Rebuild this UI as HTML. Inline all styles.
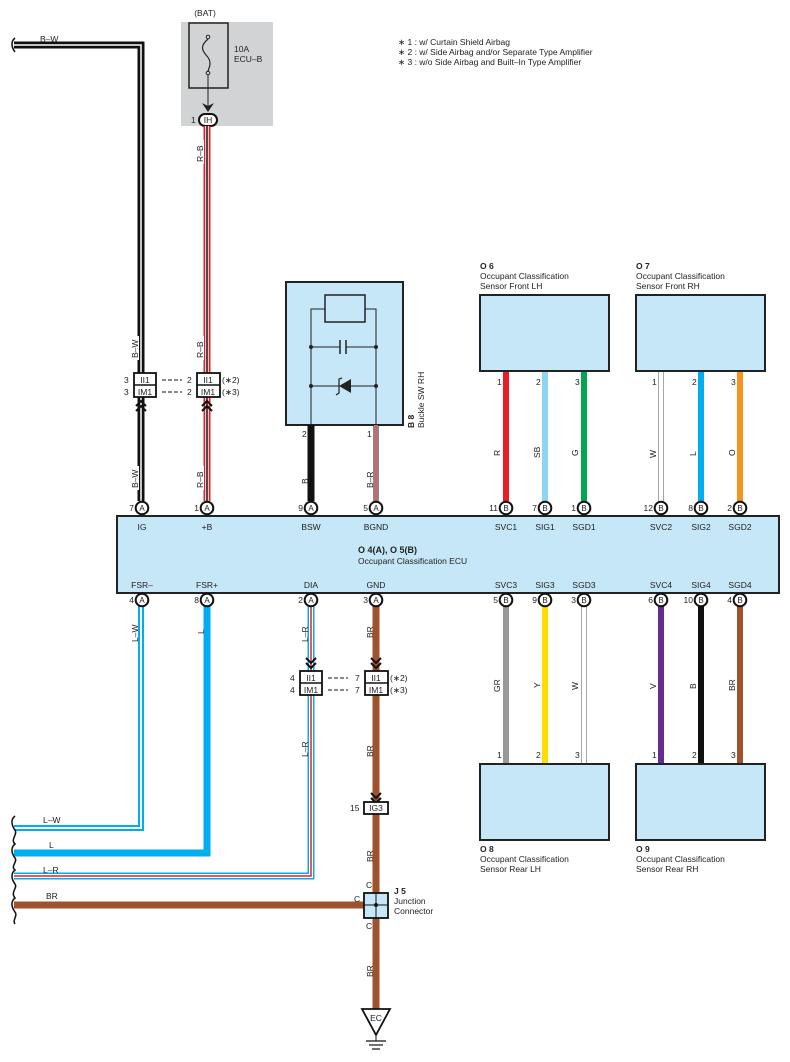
<!DOCTYPE html>
<html><head><meta charset="utf-8"><style>
html,body{margin:0;padding:0;background:#fff}
svg{display:block}
text{font-family:"Liberation Sans",Arial,sans-serif;fill:#222}
</style></head><body>
<svg width="790" height="1062" viewBox="0 0 790 1062" xmlns="http://www.w3.org/2000/svg">
<defs>
<g id="chev"><polyline points="-5,-5 0,0 5,-5" fill="none" stroke="#111" stroke-width="2"/><polyline points="-5,0 0,5 5,0" fill="none" stroke="#111" stroke-width="2"/></g>
<g id="chevu"><polyline points="-5,5 0,0 5,5" fill="none" stroke="#111" stroke-width="2"/><polyline points="-5,10 0,5 5,10" fill="none" stroke="#111" stroke-width="2"/></g>
</defs>

<g font-size="8.5">
<text x="398" y="45">∗ 1 : w/ Curtain Shield Airbag</text>
<text x="398" y="55">∗ 2 : w/ Side Airbag and/or Separate Type Amplifier</text>
<text x="398" y="65">∗ 3 : w/o Side Airbag and Built–In Type Amplifier</text>
</g>

<rect x="181" y="22" width="92" height="104" fill="#d2d3d5"/>
<text x="205" y="16" font-size="8.5" text-anchor="middle">(BAT)</text>
<rect x="189" y="23" width="39" height="65" fill="none" stroke="#222" stroke-width="1.5"/>
<circle cx="208" cy="37" r="1.8" fill="none" stroke="#222"/>
<circle cx="208" cy="73" r="1.8" fill="none" stroke="#222"/>
<path d="M208,39 C200,46 202,50 206,55 C212,61 210,66 208,71" fill="none" stroke="#222" stroke-width="1.2"/>
<line x1="208" y1="75" x2="208" y2="108" stroke="#222" stroke-width="1"/>
<path d="M202,103 L208,112 L214,103 L208,106Z" fill="#222"/>
<text x="234" y="52" font-size="8.5">10A</text>
<text x="234" y="62" font-size="8.5">ECU–B</text>
<rect x="199" y="114" width="18" height="12" rx="6" fill="#fff" stroke="#111" stroke-width="2"/>
<text x="208" y="123" font-size="8.5" text-anchor="middle">IH</text>
<text x="191" y="123" font-size="8.5">1</text>

<path d="M14,45 H141 V501" fill="none" stroke="#111" stroke-width="7"/>
<path d="M14,45 H141 V501" fill="none" stroke="#fff" stroke-width="1.5"/>
<path d="M15,38 C10,42 12,48 15,52" fill="none" stroke="#111" stroke-width="1.5"/>
<text x="40" y="42" font-size="8.5">B–W</text>

<line x1="207" y1="126" x2="207" y2="501" stroke="#e5202e" stroke-width="7"/>
<line x1="207" y1="126" x2="207" y2="501" stroke="#fff" stroke-width="3.5"/>
<line x1="207" y1="126" x2="207" y2="501" stroke="#111" stroke-width="1.5"/>

<g font-size="8.5">
<rect x="194" y="140" width="10" height="24" fill="#fff"/>
<text transform="translate(203,162) rotate(-90)">R–B</text>
<rect x="129" y="336" width="10" height="24" fill="#fff"/>
<text transform="translate(138,358) rotate(-90)">B–W</text>
<rect x="194" y="336" width="10" height="24" fill="#fff"/>
<text transform="translate(203,358) rotate(-90)">R–B</text>
<rect x="129" y="466" width="10" height="24" fill="#fff"/>
<text transform="translate(138,488) rotate(-90)">B–W</text>
<rect x="194" y="466" width="10" height="24" fill="#fff"/>
<text transform="translate(203,488) rotate(-90)">R–B</text>
</g>

<g font-size="8.5">
<rect x="134" y="373" width="22" height="24" fill="#fff" stroke="#111" stroke-width="1.8"/>
<line x1="134" y1="385" x2="156" y2="385" stroke="#111" stroke-width="1.5"/>
<text x="145" y="383" text-anchor="middle">II1</text>
<text x="145" y="395" text-anchor="middle">IM1</text>
<text x="124" y="383">3</text><text x="124" y="395">3</text>
<rect x="197" y="373" width="23" height="24" fill="#fff" stroke="#111" stroke-width="1.8"/>
<line x1="197" y1="385" x2="220" y2="385" stroke="#111" stroke-width="1.5"/>
<text x="208" y="383" text-anchor="middle">II1</text>
<text x="208" y="395" text-anchor="middle">IM1</text>
<text x="187" y="383">2</text><text x="187" y="395">2</text>
<text x="222" y="383">(∗2)</text><text x="222" y="395">(∗3)</text>
<line x1="162" y1="380" x2="182" y2="380" stroke="#111" stroke-dasharray="4,2"/>
<line x1="162" y1="392" x2="182" y2="392" stroke="#111" stroke-dasharray="4,2"/>
</g>
<use href="#chevu" x="141" y="401"/>
<use href="#chevu" x="207" y="401"/>

<rect x="286" y="282" width="117" height="143" fill="#c6e7f8" stroke="#222" stroke-width="2"/>
<rect x="325" y="295" width="40" height="27" fill="#c6e7f8" stroke="#222" stroke-width="1.5"/>
<path d="M325,309 H311 V425 M365,309 H376 V425" fill="none" stroke="#222" stroke-width="1"/>
<line x1="311" y1="347" x2="340" y2="347" stroke="#222"/><line x1="346" y1="347" x2="376" y2="347" stroke="#222"/>
<line x1="340" y1="340" x2="340" y2="354" stroke="#222" stroke-width="1.5"/><line x1="346" y1="340" x2="346" y2="354" stroke="#222" stroke-width="1.5"/>
<line x1="311" y1="386" x2="376" y2="386" stroke="#222"/>
<path d="M351,379 L339,386 L351,393Z" fill="#222"/>
<path d="M342,378 L339,379 V393 L336,395" fill="none" stroke="#222" stroke-width="1.2"/>
<circle cx="311" cy="347" r="2" fill="#222"/><circle cx="376" cy="347" r="2" fill="#222"/>
<circle cx="311" cy="386" r="2" fill="#222"/><circle cx="376" cy="386" r="2" fill="#222"/>
<text transform="translate(414,428) rotate(-90)" font-size="8.5" font-weight="bold">B 8</text>
<text transform="translate(424,428) rotate(-90)" font-size="8.5">Buckle SW RH</text>
<line x1="311" y1="425" x2="311" y2="501" stroke="#111" stroke-width="7"/>
<line x1="376" y1="425" x2="376" y2="501" stroke="#111" stroke-width="5"/>
<line x1="376" y1="425" x2="376" y2="501" stroke="#fff" stroke-width="3"/>
<line x1="376" y1="425" x2="376" y2="501" stroke="#e5202e" stroke-width="1.5"/>
<g font-size="8.5">
<text x="302" y="437">2</text><text x="367" y="437">1</text>
<text transform="translate(308,484) rotate(-90)">B</text>
<text transform="translate(373,488) rotate(-90)">B–R</text>
</g>

<rect x="480" y="295" width="129" height="76" fill="#c6e7f8" stroke="#222" stroke-width="2"/>
<rect x="636" y="295" width="129" height="76" fill="#c6e7f8" stroke="#222" stroke-width="2"/>
<g font-size="8.5">
<text x="480" y="269" font-weight="bold">O 6</text>
<text x="480" y="279">Occupant Classification</text>
<text x="480" y="289">Sensor Front LH</text>
<text x="636" y="269" font-weight="bold">O 7</text>
<text x="636" y="279">Occupant Classification</text>
<text x="636" y="289">Sensor Front RH</text>
</g>
<g stroke-width="6">
<line x1="506" y1="372" x2="506" y2="501" stroke="#ed1c24"/>
<line x1="545" y1="372" x2="545" y2="501" stroke="#8dd4f6"/>
<line x1="584" y1="372" x2="584" y2="501" stroke="#00a651"/>
<line x1="661" y1="372" x2="661" y2="501" stroke="#888"/>
<line x1="661" y1="372" x2="661" y2="501" stroke="#fff" stroke-width="4.5"/>
<line x1="701" y1="372" x2="701" y2="501" stroke="#00aeef"/>
<line x1="740" y1="372" x2="740" y2="501" stroke="#f7941d"/>
</g>
<g font-size="8.5">
<text x="497" y="385">1</text><text x="536" y="385">2</text><text x="575" y="385">3</text>
<text x="652" y="385">1</text><text x="692" y="385">2</text><text x="731" y="385">3</text>
<text transform="translate(500,456) rotate(-90)">R</text>
<text transform="translate(540,458) rotate(-90)">SB</text>
<text transform="translate(578,456) rotate(-90)">G</text>
<text transform="translate(656,458) rotate(-90)">W</text>
<text transform="translate(696,456) rotate(-90)">L</text>
<text transform="translate(735,456) rotate(-90)">O</text>
</g>

<path d="M14,828 H141 V606" fill="none" stroke="#00aeef" stroke-width="6"/>
<path d="M14,828 H141 V606" fill="none" stroke="#fff" stroke-width="2"/>
<path d="M14,853 H207 V606" fill="none" stroke="#00aeef" stroke-width="7"/>
<path d="M14,876 H311 V606" fill="none" stroke="#00aeef" stroke-width="7"/>
<path d="M14,876 H311 V606" fill="none" stroke="#fff" stroke-width="4"/>
<path d="M14,876 H311 V606" fill="none" stroke="#e5202e" stroke-width="1.5"/>
<line x1="14" y1="905" x2="376" y2="905" stroke="#a0522d" stroke-width="7"/>
<line x1="376" y1="606" x2="376" y2="1012" stroke="#a0522d" stroke-width="7"/>
<path d="M15,816 C10,820 12,826 15,830 C18,834 10,840 15,844 C10,848 12,854 15,858 C18,862 10,866 15,870 C10,874 12,880 15,884 C18,888 10,892 15,898 C10,902 12,908 15,912 C18,916 12,920 15,924" fill="none" stroke="#111" stroke-width="1.5"/>
<g font-size="8.5">
<text x="43" y="823">L–W</text><text x="49" y="848">L</text>
<text x="43" y="873">L–R</text><text x="46" y="899">BR</text>
<text transform="translate(138,642) rotate(-90)">L–W</text>
<text transform="translate(204,634) rotate(-90)">L</text>
<text transform="translate(308,642) rotate(-90)">L–R</text>
<text transform="translate(373,638) rotate(-90)">BR</text>
<text transform="translate(308,757) rotate(-90)">L–R</text>
<text transform="translate(373,757) rotate(-90)">BR</text>
<text transform="translate(373,862) rotate(-90)">BR</text>
<text transform="translate(373,977) rotate(-90)">BR</text>
</g>
<use href="#chev" x="311" y="663"/>
<use href="#chev" x="376" y="663"/>
<use href="#chev" x="376" y="798"/>
<g font-size="8.5">
<rect x="300" y="671" width="22" height="24" fill="#fff" stroke="#111" stroke-width="1.8"/>
<line x1="300" y1="683" x2="322" y2="683" stroke="#111" stroke-width="1.5"/>
<text x="311" y="681" text-anchor="middle">II1</text><text x="311" y="693" text-anchor="middle">IM1</text>
<text x="290" y="681">4</text><text x="290" y="693">4</text>
<rect x="365" y="671" width="23" height="24" fill="#fff" stroke="#111" stroke-width="1.8"/>
<line x1="365" y1="683" x2="388" y2="683" stroke="#111" stroke-width="1.5"/>
<text x="376" y="681" text-anchor="middle">II1</text><text x="376" y="693" text-anchor="middle">IM1</text>
<text x="355" y="681">7</text><text x="355" y="693">7</text>
<text x="390" y="681">(∗2)</text><text x="390" y="693">(∗3)</text>
<line x1="328" y1="678" x2="348" y2="678" stroke="#111" stroke-dasharray="4,2"/>
<line x1="328" y1="690" x2="348" y2="690" stroke="#111" stroke-dasharray="4,2"/>
<rect x="364" y="802" width="24" height="12" fill="#fff" stroke="#111" stroke-width="1.8"/>
<text x="376" y="811" text-anchor="middle">IG3</text>
<text x="350" y="811">15</text>
<rect x="364" y="893" width="24" height="25" fill="#c6e7f8" stroke="#111" stroke-width="1.8"/>
<line x1="364" y1="905" x2="388" y2="905" stroke="#111"/><line x1="376" y1="893" x2="376" y2="918" stroke="#111"/>
<circle cx="376" cy="905" r="2" fill="#111"/>
<text x="366" y="888">C</text><text x="354" y="902">C</text><text x="366" y="929">C</text>
<text x="394" y="894" font-weight="bold">J 5</text>
<text x="394" y="904">Junction</text><text x="394" y="914">Connector</text>
</g>
<path d="M362,1009 H390 L376,1035Z" fill="#fff" stroke="#111" stroke-width="1.8"/>
<text x="376" y="1021" font-size="8.5" text-anchor="middle">EC</text>
<line x1="376" y1="1035" x2="376" y2="1041" stroke="#111"/>
<line x1="366" y1="1041" x2="386" y2="1041" stroke="#111" stroke-width="1.2"/>
<line x1="369" y1="1045" x2="383" y2="1045" stroke="#111" stroke-width="1.2"/>
<line x1="372" y1="1049" x2="380" y2="1049" stroke="#111" stroke-width="1.2"/>

<g stroke-width="6">
<line x1="506" y1="606" x2="506" y2="764" stroke="#999"/>
<line x1="545" y1="606" x2="545" y2="764" stroke="#ffdd00"/>
<line x1="584" y1="606" x2="584" y2="764" stroke="#888"/>
<line x1="584" y1="606" x2="584" y2="764" stroke="#fff" stroke-width="4.5"/>
<line x1="661" y1="606" x2="661" y2="764" stroke="#662d91"/>
<line x1="701" y1="606" x2="701" y2="764" stroke="#111"/>
<line x1="740" y1="606" x2="740" y2="764" stroke="#a0522d"/>
</g>
<rect x="480" y="764" width="129" height="76" fill="#c6e7f8" stroke="#222" stroke-width="2"/>
<rect x="636" y="764" width="129" height="76" fill="#c6e7f8" stroke="#222" stroke-width="2"/>
<g font-size="8.5">
<text x="497" y="758">1</text><text x="536" y="758">2</text><text x="575" y="758">3</text>
<text x="652" y="758">1</text><text x="692" y="758">2</text><text x="731" y="758">3</text>
<text transform="translate(500,692) rotate(-90)">GR</text>
<text transform="translate(540,688) rotate(-90)">Y</text>
<text transform="translate(578,690) rotate(-90)">W</text>
<text transform="translate(656,689) rotate(-90)">V</text>
<text transform="translate(696,689) rotate(-90)">B</text>
<text transform="translate(735,691) rotate(-90)">BR</text>
<text x="480" y="852" font-weight="bold">O 8</text>
<text x="480" y="862">Occupant Classification</text>
<text x="480" y="872">Sensor Rear LH</text>
<text x="636" y="852" font-weight="bold">O 9</text>
<text x="636" y="862">Occupant Classification</text>
<text x="636" y="872">Sensor Rear RH</text>
</g>

<rect x="117" y="516" width="662" height="77" fill="#c6e7f8" stroke="#222" stroke-width="2"/>
<g font-size="8.5" text-anchor="middle">
<text x="142" y="530">IG</text><text x="207" y="530">+B</text><text x="311" y="530">BSW</text><text x="376" y="530">BGND</text>
<text x="506" y="530">SVC1</text><text x="545" y="530">SIG1</text><text x="584" y="530">SGD1</text>
<text x="661" y="530">SVC2</text><text x="701" y="530">SIG2</text><text x="740" y="530">SGD2</text>
<text x="142" y="588">FSR–</text><text x="207" y="588">FSR+</text><text x="311" y="588">DIA</text><text x="376" y="588">GND</text>
<text x="506" y="588">SVC3</text><text x="545" y="588">SIG3</text><text x="584" y="588">SGD3</text>
<text x="661" y="588">SVC4</text><text x="701" y="588">SIG4</text><text x="740" y="588">SGD4</text>
</g>
<text x="358" y="553" font-size="9" font-weight="bold">O 4(A), O 5(B)</text>
<text x="358" y="564" font-size="8.5">Occupant Classification ECU</text>

<g font-size="8" text-anchor="middle">
<g stroke="#111" stroke-width="2" fill="#fff">
<circle cx="142" cy="508" r="6.3"/><circle cx="207" cy="508" r="6.3"/><circle cx="311" cy="508" r="6.3"/><circle cx="376" cy="508" r="6.3"/>
<circle cx="506" cy="508" r="6.3"/><circle cx="545" cy="508" r="6.3"/><circle cx="584" cy="508" r="6.3"/>
<circle cx="661" cy="508" r="6.3"/><circle cx="701" cy="508" r="6.3"/><circle cx="740" cy="508" r="6.3"/>
<circle cx="142" cy="600" r="6.3"/><circle cx="207" cy="600" r="6.3"/><circle cx="311" cy="600" r="6.3"/><circle cx="376" cy="600" r="6.3"/>
<circle cx="506" cy="600" r="6.3"/><circle cx="545" cy="600" r="6.3"/><circle cx="584" cy="600" r="6.3"/>
<circle cx="661" cy="600" r="6.3"/><circle cx="701" cy="600" r="6.3"/><circle cx="740" cy="600" r="6.3"/>
</g>
<text x="142" y="511">A</text><text x="207" y="511">A</text><text x="311" y="511">A</text><text x="376" y="511">A</text>
<text x="506" y="511">B</text><text x="545" y="511">B</text><text x="584" y="511">B</text>
<text x="661" y="511">B</text><text x="701" y="511">B</text><text x="740" y="511">B</text>
<text x="142" y="603">A</text><text x="207" y="603">A</text><text x="311" y="603">A</text><text x="376" y="603">A</text>
<text x="506" y="603">B</text><text x="545" y="603">B</text><text x="584" y="603">B</text>
<text x="661" y="603">B</text><text x="701" y="603">B</text><text x="740" y="603">B</text>
</g>
<g font-size="8.5" text-anchor="end">
<text x="134" y="511">7</text><text x="199" y="511">1</text><text x="303" y="511">9</text><text x="368" y="511">5</text>
<text x="498" y="511">11</text><text x="537" y="511">7</text><text x="576" y="511">1</text>
<text x="653" y="511">12</text><text x="693" y="511">8</text><text x="732" y="511">2</text>
<text x="134" y="603">4</text><text x="199" y="603">8</text><text x="303" y="603">2</text><text x="368" y="603">3</text>
<text x="498" y="603">5</text><text x="537" y="603">9</text><text x="576" y="603">3</text>
<text x="653" y="603">6</text><text x="693" y="603">10</text><text x="732" y="603">4</text>
</g>
</svg>
</body></html>
